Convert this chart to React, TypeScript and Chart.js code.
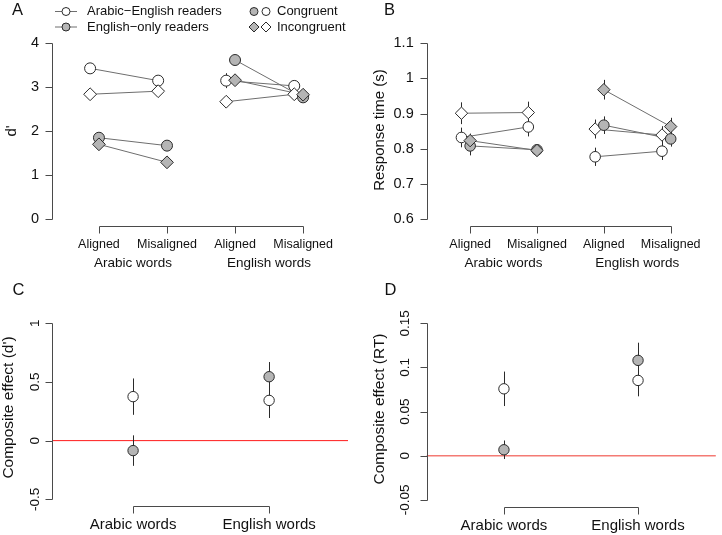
import React, { useEffect, useRef } from 'react';
import { Chart, registerables } from 'chart.js';

Chart.register(...registerables);

const FONT = '"Liberation Sans", Arimo, Arial, Helvetica, sans-serif';

// ---------------- categories & labels ----------------
const conditionLabels = ['Aligned', 'Misaligned', 'Aligned', 'Misaligned'];
const conditionPositions = [1, 2, 3, 4];
const wordTypeLabels = ['Arabic words', 'English words'];
const wordTypeGroupPositions = [1.5, 3.5];
const wordTypePositions = [1, 2];
const groupLabels = ['Arabic\u2212English readers', 'English\u2212only readers'];
const congruencyLabels = ['Congruent', 'Incongruent'];

// ---------------- Panel A: d' ----------------
// order: Arabic-Aligned, Arabic-Misaligned, English-Aligned, English-Misaligned
const dAE_Congruent = [3.43, 3.15, 3.15, 3.03];
const dAE_Incongruent = [2.84, 2.91, 2.67, 2.84];
const dEO_Congruent = [1.85, 1.67, 3.62, 2.77];
const dEO_Incongruent = [1.7, 1.29, 3.16, 2.83];
const dAE_CongruentErr = [0.09, 0.09, 0.17, 0.08];
const dAE_IncongruentErr = [0.08, 0.08, 0.09, 0.07];
const dEO_CongruentErr = [0.1, 0.09, 0.11, 0.08];
const dEO_IncongruentErr = [0.1, 0.09, 0.1, 0.08];
const dTicks = [0, 1, 2, 3, 4];

// ---------------- Panel B: response time ----------------
const rtAE_Congruent = [0.832, 0.862, 0.777, 0.793];
const rtAE_Incongruent = [0.901, 0.903, 0.856, 0.839];
const rtEO_Congruent = [0.808, 0.797, 0.867, 0.828];
const rtEO_Incongruent = [0.823, 0.795, 0.968, 0.863];
const rtAE_CongruentErr = [0.028, 0.027, 0.026, 0.025];
const rtAE_IncongruentErr = [0.031, 0.031, 0.027, 0.025];
const rtEO_CongruentErr = [0.027, 0.015, 0.025, 0.022];
const rtEO_IncongruentErr = [0.02, 0.015, 0.028, 0.025];
const rtTicks = [0.6, 0.7, 0.8, 0.9, 1, 1.1];

// ---------------- Panel C: composite effect (d') ----------------
// order: Arabic words, English words
const ceD_AE = [0.375, 0.343];
const ceD_EO = [-0.085, 0.545];
const ceD_AEErr = [0.155, 0.15];
const ceD_EOErr = [0.13, 0.125];
const ceDTicks = [-0.5, 0, 0.5, 1];

// ---------------- Panel D: composite effect (RT) ----------------
const ceRT_AE = [0.0758, 0.0853];
const ceRT_EO = [0.0068, 0.108];
const ceRT_AEErr = [0.0195, 0.018];
const ceRT_EOErr = [0.0105, 0.02];
const ceRTTicks = [-0.05, 0, 0.05, 0.1, 0.15];

// ---------------- styles ----------------
const WHITE = '#ffffff';
const GREY = '#b5b5b5';
const EDGE = '#2a2a2a';
const LINK = '#6e6e6e';
const AXIS = '#4a4a4a';
const TEXT = '#111111';
const AE_SHIFT = -0.13;

function lineDatasets(vals: number[], shift: number) {
  return {
    type: 'line',
    data: [
      { x: conditionPositions[0] + shift, y: vals[0] },
      { x: conditionPositions[1] + shift, y: vals[1] },
      { x: 2.5, y: null },
      { x: conditionPositions[2] + shift, y: vals[2] },
      { x: conditionPositions[3] + shift, y: vals[3] },
    ],
    showLine: true,
    spanGaps: false,
    borderColor: LINK,
    borderWidth: 1,
    pointRadius: 0,
    fill: false,
    tension: 0,
    order: 50,
    clip: false,
  };
}

function pointDataset(vals: number[], errs: number[], positions: number[], shift: number, fill: string, style: string, radius: number, order: number) {
  return {
    type: 'line',
    data: vals.map((v, i) => ({ x: positions[i] + shift, y: v })),
    errs,
    showLine: false,
    pointStyle: style,
    pointRadius: radius,
    pointBackgroundColor: fill,
    pointBorderColor: EDGE,
    pointBorderWidth: 1,
    order,
    clip: false,
  };
}

const datasetsA = [
  lineDatasets(dAE_Congruent, AE_SHIFT),
  lineDatasets(dAE_Incongruent, AE_SHIFT),
  lineDatasets(dEO_Congruent, 0),
  lineDatasets(dEO_Incongruent, 0),
  pointDataset(dAE_Congruent, dAE_CongruentErr, conditionPositions, AE_SHIFT, WHITE, 'circle', 5.5, 4),
  pointDataset(dAE_Incongruent, dAE_IncongruentErr, conditionPositions, AE_SHIFT, WHITE, 'rectRot', 6.4, 3),
  pointDataset(dEO_Congruent, dEO_CongruentErr, conditionPositions, 0, GREY, 'circle', 5.5, 2),
  pointDataset(dEO_Incongruent, dEO_IncongruentErr, conditionPositions, 0, GREY, 'rectRot', 6.4, 1),
];

const datasetsB = [
  lineDatasets(rtAE_Congruent, AE_SHIFT),
  lineDatasets(rtAE_Incongruent, AE_SHIFT),
  lineDatasets(rtEO_Congruent, 0),
  lineDatasets(rtEO_Incongruent, 0),
  pointDataset(rtAE_Congruent, rtAE_CongruentErr, conditionPositions, AE_SHIFT, WHITE, 'circle', 5.3, 4),
  pointDataset(rtAE_Incongruent, rtAE_IncongruentErr, conditionPositions, AE_SHIFT, WHITE, 'rectRot', 6.2, 3),
  pointDataset(rtEO_Congruent, rtEO_CongruentErr, conditionPositions, 0, GREY, 'circle', 5.3, 2),
  pointDataset(rtEO_Incongruent, rtEO_IncongruentErr, conditionPositions, 0, GREY, 'rectRot', 6.2, 1),
];

const datasetsC = [
  pointDataset(ceD_AE, ceD_AEErr, wordTypePositions, 0, WHITE, 'circle', 5.2, 2),
  pointDataset(ceD_EO, ceD_EOErr, wordTypePositions, 0, GREY, 'circle', 5.2, 1),
];

const datasetsD = [
  pointDataset(ceRT_AE, ceRT_AEErr, wordTypePositions, 0, WHITE, 'circle', 5.2, 2),
  pointDataset(ceRT_EO, ceRT_EOErr, wordTypePositions, 0, GREY, 'circle', 5.2, 1),
];

interface Panel {
  key: string;
  pos: { left: number; top: number; width: number; height: number };
  area: { l: number; t: number; r: number; b: number };
  xRange: [number, number];
  yRange: [number, number];
  yTicks: number[];
  yTickFont: string;
  yTickRotated: boolean;
  yTickGap: number;
  xTicks: number[];
  xTickLabels: string[];
  xTickFont: string;
  xTickDy: number;
  groups?: string[];
  groupPos?: number[];
  groupFont?: string;
  groupDy?: number;
  title: string;
  titleX: number;
  titleY: number;
  titleFont: string;
  letter: string;
  letterX: number;
  letterY: number;
  refLine?: { color: string; width: number };
  legend?: boolean;
  datasets: any[];
}

const panels: Panel[] = [
  {
    key: 'A',
    pos: { left: 0, top: 0, width: 361, height: 285 },
    area: { l: 52, t: 36.3, r: 348, b: 226 },
    xRange: [0.31, 4.66],
    yRange: [-0.16, 4.16],
    yTicks: dTicks,
    yTickFont: `14.5px ${FONT}`,
    yTickRotated: false,
    yTickGap: 13,
    xTicks: conditionPositions,
    xTickLabels: conditionLabels,
    xTickFont: `12.5px ${FONT}`,
    xTickDy: 18.5,
    groups: wordTypeLabels,
    groupPos: wordTypeGroupPositions,
    groupFont: `13.5px ${FONT}`,
    groupDy: 37.5,
    title: "d'",
    titleX: 12,
    titleY: 131,
    titleFont: `15px ${FONT}`,
    letter: 'A',
    letterX: 17.5,
    letterY: 10,
    legend: true,
    datasets: datasetsA,
  },
  {
    key: 'B',
    pos: { left: 361, top: 0, width: 361, height: 285 },
    area: { l: 65.7, t: 36.3, r: 360, b: 226 },
    xRange: [0.35, 4.66],
    yRange: [0.58, 1.12],
    yTicks: rtTicks,
    yTickFont: `14.5px ${FONT}`,
    yTickRotated: false,
    yTickGap: 13,
    xTicks: conditionPositions,
    xTickLabels: conditionLabels,
    xTickFont: `12.5px ${FONT}`,
    xTickDy: 18.5,
    groups: wordTypeLabels,
    groupPos: wordTypeGroupPositions,
    groupFont: `13.5px ${FONT}`,
    groupDy: 37.5,
    title: 'Response time (s)',
    titleX: 19,
    titleY: 130,
    titleFont: `15px ${FONT}`,
    letter: 'B',
    letterX: 28.5,
    letterY: 10,
    datasets: datasetsB,
  },
  {
    key: 'C',
    pos: { left: 0, top: 268, width: 361, height: 267 },
    area: { l: 52, t: 48.3, r: 348, b: 238.3 },
    xRange: [0.404, 2.58],
    yRange: [-0.56, 1.06],
    yTicks: ceDTicks,
    yTickFont: `13.5px ${FONT}`,
    yTickRotated: true,
    yTickGap: 17,
    xTicks: wordTypePositions,
    xTickLabels: wordTypeLabels,
    xTickFont: `15px ${FONT}`,
    xTickDy: 19,
    title: "Composite effect (d')",
    titleX: 8.5,
    titleY: 139.5,
    titleFont: `15.5px ${FONT}`,
    letter: 'C',
    letterX: 18.5,
    letterY: 22,
    refLine: { color: '#ff1a1a', width: 1 },
    datasets: datasetsC,
  },
  {
    key: 'D',
    pos: { left: 361, top: 268, width: 361, height: 267 },
    area: { l: 65.7, t: 48.2, r: 359.8, b: 239 },
    xRange: [0.424, 2.58],
    yRange: [-0.058, 0.158],
    yTicks: ceRTTicks,
    yTickFont: `13.5px ${FONT}`,
    yTickRotated: true,
    yTickGap: 21.5,
    xTicks: wordTypePositions,
    xTickLabels: wordTypeLabels,
    xTickFont: `15px ${FONT}`,
    xTickDy: 19,
    title: 'Composite effect (RT)',
    titleX: 19,
    titleY: 141,
    titleFont: `15.5px ${FONT}`,
    letter: 'D',
    letterX: 29.5,
    letterY: 22,
    refLine: { color: '#f47a74', width: 1.6 },
    datasets: datasetsD,
  },
];

function fmt(v: number) {
  return String(v);
}

function drawText(ctx: CanvasRenderingContext2D, s: string, x: number, y: number, font: string, align: CanvasTextAlign = 'center', rot = 0) {
  ctx.save();
  ctx.font = font;
  ctx.fillStyle = TEXT;
  ctx.textAlign = align;
  ctx.textBaseline = 'middle';
  ctx.translate(x, y);
  if (rot) ctx.rotate(rot);
  ctx.fillText(s, 0, 0);
  ctx.restore();
}

function drawCircle(ctx: CanvasRenderingContext2D, x: number, y: number, r: number, fill: string) {
  ctx.beginPath();
  ctx.arc(x, y, r, 0, Math.PI * 2);
  ctx.fillStyle = fill;
  ctx.fill();
  ctx.lineWidth = 1;
  ctx.strokeStyle = EDGE;
  ctx.stroke();
}

function drawDiamond(ctx: CanvasRenderingContext2D, x: number, y: number, r: number, fill: string) {
  ctx.beginPath();
  ctx.moveTo(x - r, y);
  ctx.lineTo(x, y - r);
  ctx.lineTo(x + r, y);
  ctx.lineTo(x, y + r);
  ctx.closePath();
  ctx.fillStyle = fill;
  ctx.fill();
  ctx.lineWidth = 1;
  ctx.strokeStyle = EDGE;
  ctx.stroke();
}

function makeDecor(p: Panel) {
  return {
    id: 'decor' + p.key,
    beforeDatasetsDraw(chart: any) {
      const ctx: CanvasRenderingContext2D = chart.ctx;
      const ys = chart.scales.y;
      const area = chart.chartArea;
      ctx.save();
      if (p.refLine) {
        const y0 = ys.getPixelForValue(0);
        ctx.strokeStyle = p.refLine.color;
        ctx.lineWidth = p.refLine.width;
        ctx.beginPath();
        ctx.moveTo(area.left, y0);
        ctx.lineTo(area.right, y0);
        ctx.stroke();
      }
      ctx.strokeStyle = EDGE;
      ctx.lineWidth = 1;
      chart.data.datasets.forEach((ds: any, i: number) => {
        if (!ds.errs) return;
        const meta = chart.getDatasetMeta(i);
        meta.data.forEach((el: any, j: number) => {
          const v = ds.data[j].y;
          const e = ds.errs[j];
          if (v == null || e == null) return;
          const x = Math.round(el.x) + 0.5;
          ctx.beginPath();
          ctx.moveTo(x, ys.getPixelForValue(v - e));
          ctx.lineTo(x, ys.getPixelForValue(v + e));
          ctx.stroke();
        });
      });
      ctx.restore();
    },
    afterDraw(chart: any) {
      const ctx: CanvasRenderingContext2D = chart.ctx;
      const xs = chart.scales.x;
      const ys = chart.scales.y;
      const area = chart.chartArea;
      const ax = Math.round(area.left) + 0.5;
      const ay = Math.round(area.bottom) + 0.5;
      ctx.save();
      ctx.strokeStyle = AXIS;
      ctx.lineWidth = 1;
      // y axis
      const yTop = ys.getPixelForValue(p.yTicks[p.yTicks.length - 1]);
      const yBot = ys.getPixelForValue(p.yTicks[0]);
      ctx.beginPath();
      ctx.moveTo(ax, Math.round(yBot) + 0.5);
      ctx.lineTo(ax, Math.round(yTop) + 0.5);
      p.yTicks.forEach((t) => {
        const y = Math.round(ys.getPixelForValue(t)) + 0.5;
        ctx.moveTo(ax, y);
        ctx.lineTo(ax - 7, y);
      });
      // x axis
      const xL = xs.getPixelForValue(p.xTicks[0]);
      const xR = xs.getPixelForValue(p.xTicks[p.xTicks.length - 1]);
      ctx.moveTo(Math.round(xL) + 0.5, ay);
      ctx.lineTo(Math.round(xR) + 0.5, ay);
      p.xTicks.forEach((t) => {
        const x = Math.round(xs.getPixelForValue(t)) + 0.5;
        ctx.moveTo(x, ay);
        ctx.lineTo(x, ay + 7);
      });
      ctx.stroke();
      ctx.restore();

      // y tick labels
      p.yTicks.forEach((t) => {
        const y = ys.getPixelForValue(t);
        if (p.yTickRotated) drawText(ctx, fmt(t), area.left - p.yTickGap, y, p.yTickFont, 'center', -Math.PI / 2);
        else drawText(ctx, fmt(t), area.left - p.yTickGap, y, p.yTickFont, 'right');
      });
      // x tick labels
      p.xTicks.forEach((t, i) => {
        drawText(ctx, p.xTickLabels[i], xs.getPixelForValue(t), area.bottom + p.xTickDy, p.xTickFont);
      });
      // group labels
      if (p.groups && p.groupPos) {
        p.groups.forEach((g, i) => {
          drawText(ctx, g, xs.getPixelForValue(p.groupPos![i]), area.bottom + (p.groupDy || 0), p.groupFont || p.xTickFont);
        });
      }
      // axis title
      drawText(ctx, p.title, p.titleX, p.titleY, p.titleFont, 'center', -Math.PI / 2);
      // panel letter
      drawText(ctx, p.letter, p.letterX, p.letterY, `16.5px ${FONT}`);

      // legend
      if (p.legend) {
        const legendFont = `13px ${FONT}`;
        const rows = [11.5, 27];
        const fills = [WHITE, GREY];
        rows.forEach((y, i) => {
          ctx.save();
          ctx.strokeStyle = LINK;
          ctx.lineWidth = 1;
          ctx.beginPath();
          ctx.moveTo(55, y);
          ctx.lineTo(77, y);
          ctx.stroke();
          drawCircle(ctx, 66, y, 4, fills[i]);
          ctx.restore();
          drawText(ctx, groupLabels[i], 87, y, legendFont, 'left');
        });
        ctx.save();
        drawCircle(ctx, 254, rows[0], 4, GREY);
        drawCircle(ctx, 266, rows[0], 4, WHITE);
        drawDiamond(ctx, 254, rows[1], 5, GREY);
        drawDiamond(ctx, 266, rows[1], 5, WHITE);
        ctx.restore();
        drawText(ctx, congruencyLabels[0], 277, rows[0], legendFont, 'left');
        drawText(ctx, congruencyLabels[1], 277, rows[1], legendFont, 'left');
      }
    },
  };
}

function PanelChart({ panel }: { panel: Panel }) {
  const ref = useRef<HTMLCanvasElement>(null);
  useEffect(() => {
    const canvas = ref.current;
    if (!canvas) return;
    const { l, t, r, b } = panel.area;
    const chart = new Chart(canvas, {
      type: 'line',
      data: { datasets: panel.datasets as any },
      options: {
        responsive: false,
        animation: false,
        events: [],
        layout: {
          padding: { left: l, top: t, right: panel.pos.width - r, bottom: panel.pos.height - b },
        },
        plugins: { legend: { display: false }, tooltip: { enabled: false } },
        scales: {
          x: { type: 'linear', min: panel.xRange[0], max: panel.xRange[1], display: false },
          y: { type: 'linear', min: panel.yRange[0], max: panel.yRange[1], display: false },
        },
      } as any,
      plugins: [makeDecor(panel)],
    });
    return () => chart.destroy();
  }, [panel]);
  return (
    <canvas
      ref={ref}
      width={panel.pos.width}
      height={panel.pos.height}
      style={{
        position: 'absolute',
        left: panel.pos.left,
        top: panel.pos.top,
        width: panel.pos.width,
        height: panel.pos.height,
      }}
    />
  );
}

export default function App() {
  return (
    <div style={{ position: 'absolute', left: 0, top: 0, width: 722, height: 535, background: '#ffffff', overflow: 'hidden' }}>
      {panels.map((p) => (
        <PanelChart key={p.key} panel={p} />
      ))}
    </div>
  );
}
